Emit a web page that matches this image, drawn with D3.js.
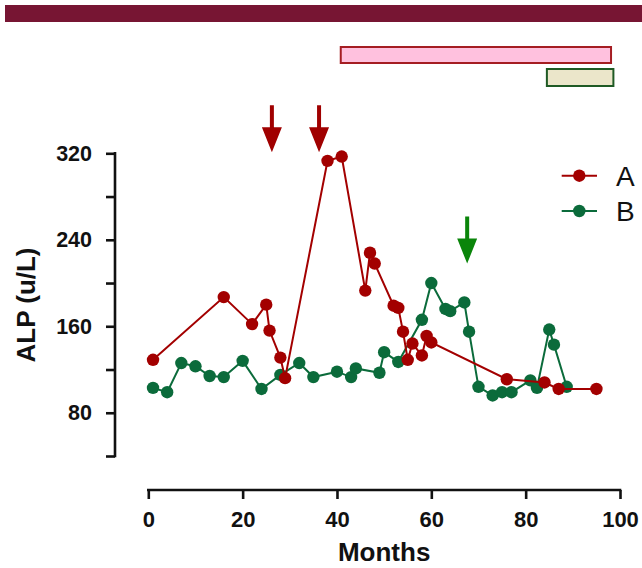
<!DOCTYPE html>
<html>
<head>
<meta charset="utf-8">
<script src="https://cdn.jsdelivr.net/npm/d3@7"></script>
<style>
  html, body { margin: 0; padding: 0; background: #fff; }
  svg { display: block; font-family: "Liberation Sans", Arial, sans-serif; }
</style>
</head>
<body>
<div id="chart"></div>
<script>
// series A (red) and B (green): month, ALP (u/L)
const monthsA = [1, 16, 22, 25, 25.7, 28, 29, 38, 41, 46, 47, 48, 52, 53, 54, 55, 56, 58, 59, 60, 76, 84, 87, 95];
const valuesA = [129, 187, 162, 180, 156, 131, 112, 313, 317, 193, 228, 218, 179, 177, 155, 129, 144, 133, 151, 145, 111, 108, 102, 102];
const monthsB = [1, 4, 7, 10, 13, 16, 20, 24, 28, 32, 35, 40, 43, 44, 49, 50, 53, 58, 60, 63, 64, 67, 68, 70, 73, 75, 77, 81, 82.4, 85, 86, 88.7];
const valuesB = [103, 99, 126, 123, 114, 113, 128, 102, 115, 126, 113, 118, 113, 121, 117, 136, 127, 166, 200, 176, 174, 182, 155, 104, 96, 99, 99, 110, 103, 157, 143, 104];
const seriesNames = ["A", "B"];
const xTicks = [0, 20, 40, 60, 80, 100];
const yTicks = [40, 80, 120, 160, 200, 240, 280, 320];
const yLabelled = [80, 160, 240, 320];
// treatment periods (months) shown as bars above the plot
const periodPink = [40.8, 98.1];
const periodBeige = [84.5, 98.6];
// arrows: month and ALP value at the tip
const arrowsRed = [26.2, 36.2];
const arrowRedTip = 321;
const arrowsGreen = [67.6];
const arrowGreenTip = 218;

(function () {
  const W = 642, H = 568;
  const red = "#a30000", green = "#0b6b3b";

  const svg = d3.select("#chart").append("svg")
    .attr("width", W).attr("height", H);

  const x = d3.scaleLinear().domain([0, 100]).range([148.3, 620]);
  const y = d3.scaleLinear().domain([40, 320]).range([456, 153.3]);

  // top banner
  svg.append("rect")
    .attr("x", 5).attr("y", 5).attr("width", W - 5).attr("height", 17)
    .attr("fill", "#771533");

  // period bars
  svg.append("rect")
    .attr("x", x(periodPink[0])).attr("y", 47)
    .attr("width", x(periodPink[1]) - x(periodPink[0])).attr("height", 16)
    .attr("fill", "#ffc1de").attr("stroke", "#a51d22").attr("stroke-width", 2);
  svg.append("rect")
    .attr("x", x(periodBeige[0])).attr("y", 69)
    .attr("width", x(periodBeige[1]) - x(periodBeige[0])).attr("height", 17)
    .attr("fill", "#ebe6ca").attr("stroke", "#1f5a24").attr("stroke-width", 2);

  // axes
  const yAxis = d3.axisLeft(y)
    .tickValues(yTicks)
    .tickSize(9).tickSizeOuter(0).tickPadding(14)
    .tickFormat((d) => (yLabelled.includes(d) ? d : ""));
  const gy = svg.append("g")
    .attr("transform", "translate(115,0)")
    .call(yAxis);

  const xAxis = d3.axisBottom(x)
    .tickValues(xTicks)
    .tickSize(9).tickSizeOuter(0).tickPadding(12);
  const gx = svg.append("g")
    .attr("transform", "translate(0,490)")
    .call(xAxis);

  [gx, gy].forEach(function (g) {
    g.selectAll("path, line")
      .attr("stroke", "#111").attr("stroke-width", 2.6);
    g.selectAll("text")
      .attr("fill", "#111")
      .style("font-weight", "bold");
  });
  gx.selectAll("text").style("font-size", "22px");
  gy.selectAll("text").style("font-size", "21.5px");
  gy.select(".domain").attr("d", `M0,${y(320) - 1.3}V${y(40) + 1.3}`);
  gx.select(".domain").attr("d", `M${x(0) - 1.3},0H${x(100) + 1.3}`);

  svg.append("text")
    .attr("transform", "translate(35,305) rotate(-90)")
    .attr("text-anchor", "middle")
    .style("font-size", "26px").style("font-weight", "bold")
    .attr("fill", "#111")
    .text("ALP (u/L)");

  svg.append("text")
    .attr("x", x(50)).attr("y", 561)
    .attr("text-anchor", "middle")
    .style("font-size", "26px").style("font-weight", "bold")
    .attr("fill", "#111")
    .text("Months");

  // arrows
  function arrowPath(m, tip) {
    const cx = x(m), ty = y(tip);
    return `M${cx - 2},${ty - 47}H${cx + 2}V${ty - 25}H${cx + 10}L${cx},${ty}L${cx - 10},${ty - 25}H${cx - 2}Z`;
  }
  svg.selectAll(".arrow-red").data(arrowsRed).enter().append("path")
    .attr("d", (d) => arrowPath(d, arrowRedTip))
    .attr("fill", "#a00000");
  svg.selectAll(".arrow-green").data(arrowsGreen).enter().append("path")
    .attr("d", (d) => arrowPath(d, arrowGreenTip))
    .attr("fill", "#0a850a");

  // series
  const seriesA = monthsA.map((m, i) => [m, valuesA[i]]);
  const seriesB = monthsB.map((m, i) => [m, valuesB[i]]);
  const line = d3.line().x((d) => x(d[0])).y((d) => y(d[1]));

  [[seriesB, green], [seriesA, red]].forEach(function (s) {
    const g = svg.append("g");
    g.append("path")
      .datum(s[0])
      .attr("d", line)
      .attr("fill", "none")
      .attr("stroke", s[1])
      .attr("stroke-width", 2);
    g.selectAll("circle").data(s[0]).enter().append("circle")
      .attr("cx", (d) => x(d[0]))
      .attr("cy", (d) => y(d[1]))
      .attr("r", 6.2)
      .attr("fill", s[1]);
  });

  // legend
  const legend = svg.append("g").selectAll("g")
    .data(seriesNames).enter().append("g")
    .attr("transform", (d, i) => `translate(0,${175.7 + i * 35.3})`);
  legend.append("line")
    .attr("x1", 561.7).attr("x2", 597)
    .attr("stroke", (d, i) => (i === 0 ? red : green))
    .attr("stroke-width", 2);
  legend.append("circle")
    .attr("cx", 579.3).attr("r", 6.2)
    .attr("fill", (d, i) => (i === 0 ? red : green));
  legend.append("text")
    .attr("x", 616).attr("dy", "0.36em")
    .style("font-size", "28px")
    .attr("fill", "#111")
    .text((d) => d);
})();
</script>
</body>
</html>
